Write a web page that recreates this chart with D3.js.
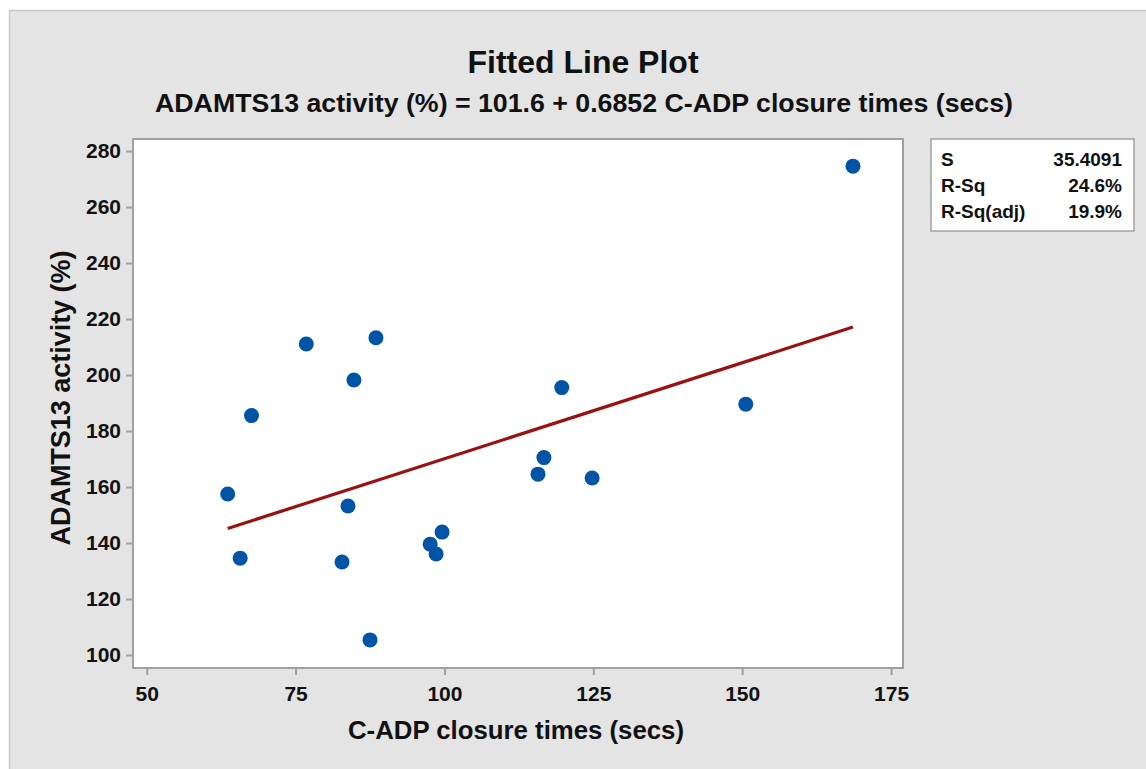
<!DOCTYPE html>
<html>
<head>
<meta charset="utf-8">
<script src="https://cdn.jsdelivr.net/npm/d3@7"></script>
<style>
  body { margin: 0; background: #fff; }
  text { font-family: "Liberation Sans", Arial, sans-serif; font-weight: bold; fill: #111; }
</style>
</head>
<body>
<script>
// C-ADP closure times (secs) vs ADAMTS13 activity (%)
var closureTimes = [168.6, 76.8, 88.5, 84.8, 67.6, 63.6, 83.8, 65.7, 82.8, 99.6, 97.6, 98.6, 87.5, 119.7, 116.7, 115.7, 124.8, 150.6];
var activity     = [274.6, 211.1, 213.3, 198.2, 185.5, 157.5, 153.2, 134.6, 133.2, 143.9, 139.6, 136.1, 105.4, 195.5, 170.5, 164.6, 163.2, 189.6];

var xTicks = [50, 75, 100, 125, 150, 175];
var yTicks = [100, 120, 140, 160, 180, 200, 220, 240, 260, 280];

var intercept = 101.6;
var slope = 0.6852;

var statLabels = ["S", "R-Sq", "R-Sq(adj)"];
var statValues = ["35.4091", "24.6%", "19.9%"];

var W = 1146, H = 769;
var plot = { left: 133, top: 139, right: 903, bottom: 668 };

var svg = d3.select("body").append("svg")
    .attr("width", W)
    .attr("height", H);

// panel background
svg.append("rect")
    .attr("x", 9.5).attr("y", 10.5)
    .attr("width", W).attr("height", H)
    .attr("fill", "#e4e4e4")
    .attr("stroke", "#c8c8c8")
    .attr("stroke-width", 1.5);

var x = d3.scaleLinear()
    .domain([47.7, 177])
    .range([plot.left, plot.right]);

var y = d3.scaleLinear()
    .domain([95.36, 284.3])
    .range([plot.bottom, plot.top]);

// plot area
svg.append("rect")
    .attr("x", plot.left).attr("y", plot.top)
    .attr("width", plot.right - plot.left)
    .attr("height", plot.bottom - plot.top)
    .attr("fill", "#fff")
    .attr("stroke", "#a0a0a0")
    .attr("stroke-width", 2);

var xAxis = svg.append("g")
    .attr("transform", "translate(0," + (plot.bottom + 1) + ")")
    .call(d3.axisBottom(x).tickValues(xTicks).tickSize(6).tickPadding(11));

var yAxis = svg.append("g")
    .attr("transform", "translate(" + (plot.left - 1) + ",0)")
    .call(d3.axisLeft(y).tickValues(yTicks).tickSize(6).tickPadding(5));

[xAxis, yAxis].forEach(function(a) {
    a.select(".domain").remove();
    a.selectAll("line").attr("stroke", "#a0a0a0").attr("stroke-width", 2);
    a.selectAll("text")
        .attr("font-size", 21)
        .attr("font-family", "Liberation Sans, Arial, sans-serif")
        .attr("font-weight", "bold")
        .attr("fill", "#111");
});

// fitted line across the range of the data
var xMin = d3.min(closureTimes), xMax = d3.max(closureTimes);
svg.append("line")
    .attr("x1", x(xMin)).attr("y1", y(intercept + slope * xMin))
    .attr("x2", x(xMax)).attr("y2", y(intercept + slope * xMax))
    .attr("stroke", "#9b1111")
    .attr("stroke-width", 3.2);

// points
svg.append("g")
    .selectAll("circle")
    .data(closureTimes)
    .enter().append("circle")
    .attr("cx", function(d) { return x(d); })
    .attr("cy", function(d, i) { return y(activity[i]); })
    .attr("r", 7.5)
    .attr("fill", "#0054a6");

// titles
svg.append("text")
    .attr("x", 583).attr("y", 73)
    .attr("text-anchor", "middle")
    .attr("font-size", 32)
    .text("Fitted Line Plot");

svg.append("text")
    .attr("x", 584).attr("y", 112)
    .attr("text-anchor", "middle")
    .attr("font-size", 25)
    .attr("textLength", 858)
    .attr("lengthAdjust", "spacingAndGlyphs")
    .text("ADAMTS13 activity (%)  =  101.6  +  0.6852 C-ADP closure times (secs)");

svg.append("text")
    .attr("x", 516).attr("y", 739)
    .attr("text-anchor", "middle")
    .attr("font-size", 26)
    .attr("textLength", 336)
    .attr("lengthAdjust", "spacingAndGlyphs")
    .text("C-ADP closure times (secs)");

svg.append("text")
    .attr("transform", "translate(70,398) rotate(-90)")
    .attr("text-anchor", "middle")
    .attr("font-size", 27)
    .attr("textLength", 295)
    .attr("lengthAdjust", "spacingAndGlyphs")
    .text("ADAMTS13 activity (%)");

// summary box
var box = svg.append("g");
box.append("rect")
    .attr("x", 931).attr("y", 139)
    .attr("width", 203).attr("height", 92)
    .attr("fill", "#fff")
    .attr("stroke", "#a0a0a0")
    .attr("stroke-width", 1.5);

var rows = box.selectAll("g.row")
    .data(statLabels)
    .enter().append("g")
    .attr("class", "row")
    .attr("transform", function(d, i) { return "translate(0," + (166 + i * 26) + ")"; });

rows.append("text")
    .attr("x", 941)
    .attr("font-size", 19)
    .text(function(d) { return d; });

rows.append("text")
    .attr("x", 1122)
    .attr("text-anchor", "end")
    .attr("font-size", 19)
    .text(function(d, i) { return statValues[i]; });
</script>
</body>
</html>
